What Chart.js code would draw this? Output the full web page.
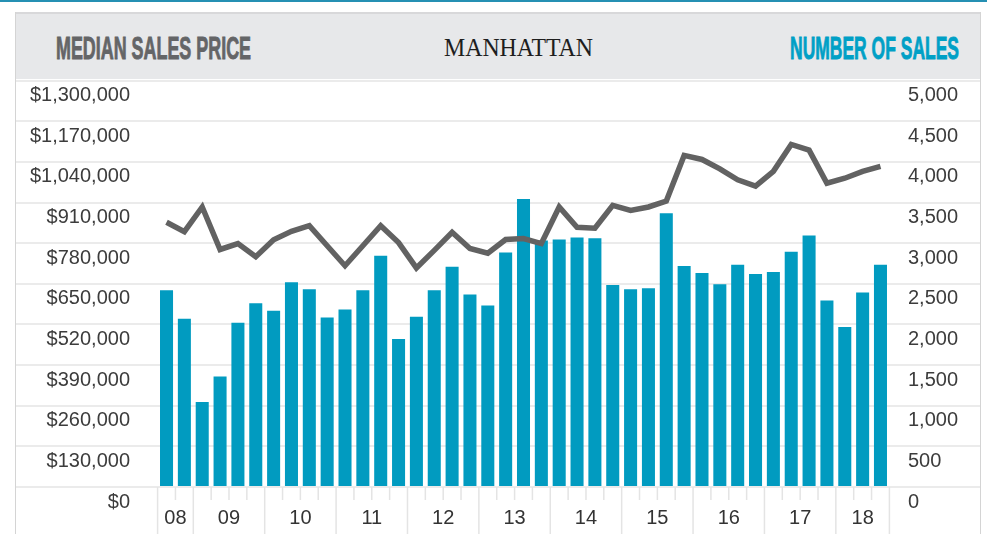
<!DOCTYPE html>
<html>
<head>
<meta charset="utf-8">
<script src="https://cdn.jsdelivr.net/npm/chart.js@4.4.1/dist/chart.umd.min.js"></script>
<style>
html,body{margin:0;padding:0;background:#fff;}
#wrap{position:relative;width:987px;height:534px;overflow:hidden;}
#c{position:absolute;left:0;top:0;}
#topline{position:absolute;left:0;top:0;width:987px;height:2px;background:#2590b3;}
#frame{position:absolute;left:15px;top:12px;width:964px;height:530px;border-left:1px solid #d4d4d4;border-right:1px solid #d4d4d4;}
#band{position:absolute;left:16px;top:12px;width:964px;height:67px;background:#e7e8ea;border-top:2px solid #d8d8da;box-sizing:border-box;}
.ht{position:absolute;white-space:nowrap;line-height:1;transform-origin:0 0;display:inline-block;}
#tl,#tr{top:31.9px;font-weight:bold;font-size:32px;font-family:"Liberation Sans Narrow","Liberation Sans",Arial,sans-serif;-webkit-text-stroke:0.9px currentColor;}
#tl{left:56px;color:#646567;}
#tr{left:790px;color:#00a0c6;}
#tc{left:444px;top:34.5px;font-size:26px;font-family:"Liberation Serif","Times New Roman",serif;color:#1e1e1e;}
</style>
</head>
<body>
<div id="wrap">
  <canvas id="c" width="987" height="534"></canvas>
  <div id="topline"></div>
  <div id="frame"></div>
  <div id="band"></div>
  <span class="ht" id="tl">MEDIAN SALES PRICE</span>
  <span class="ht" id="tc">MANHATTAN</span>
  <span class="ht" id="tr">NUMBER OF SALES</span>
</div>
<script>
// ---- data ----
const quarters = ['3Q08','4Q08',
  '1Q09','2Q09','3Q09','4Q09',
  '1Q10','2Q10','3Q10','4Q10',
  '1Q11','2Q11','3Q11','4Q11',
  '1Q12','2Q12','3Q12','4Q12',
  '1Q13','2Q13','3Q13','4Q13',
  '1Q14','2Q14','3Q14','4Q14',
  '1Q15','2Q15','3Q15','4Q15',
  '1Q16','2Q16','3Q16','4Q16',
  '1Q17','2Q17','3Q17','4Q17',
  '1Q18','2Q18','3Q18'];
const yearLabels = ['08','09','10','11','12','13','14','15','16','17','18'];
const numberOfSales = [2420, 2070, 1045, 1360, 2020, 2260, 2170, 2520, 2435, 2085,
  2185, 2420, 2845, 1820, 2095, 2420, 2710, 2370, 2235, 2885,
  3545, 3035, 3045, 3070, 3060, 2485, 2435, 2445, 3370, 2720,
  2635, 2495, 2735, 2620, 2645, 2895, 3095, 2295, 1970, 2395, 2735];
const medianPrice = [847000, 817000, 896000, 760000, 779000, 737000, 791000, 818000, 836000, 772000,
  708000, 772000, 836000, 782000, 701000, 757000, 815000, 763000, 748000, 792000,
  795000, 779000, 896000, 831000, 828000, 901000, 885000, 896000, 915000, 1061000,
  1048000, 1018000, 983000, 963000, 1010000, 1096000, 1078000, 972000, 988000, 1010000, 1026000];
const priceTicks = {min: 0, max: 1300000, step: 130000};
const salesTicks = {min: 0, max: 5000, step: 500};

// ---- helpers ----
const fmt = v => String(v).replace(/\B(?=(\d{3})+(?!\d))/g, ',');
const yearCenters = yearLabels.map(y => {
  const idx = quarters.map((q, i) => q.slice(2) === y ? i : -1).filter(i => i >= 0);
  return idx.reduce((a, b) => a + b, 0) / idx.length;
});
const FONT = '"Liberation Sans", Arial, sans-serif';
const GRID = '#ebebeb';

const quarterTicks = {
  id: 'quarterTicks',
  afterDraw(chart) {
    const {ctx, chartArea, scales: {x}} = chart;
    ctx.save();
    ctx.strokeStyle = '#e4e4e4';
    ctx.lineWidth = 1.5;
    for (let i = 0; i <= quarters.length; i++) {
      const px = x.getPixelForValue(i - 0.5);
      const tall = i === 0 || i === quarters.length || quarters[i].startsWith('1Q');
      const y2 = tall ? chart.height : chartArea.bottom + 13;
      ctx.beginPath();
      ctx.moveTo(px, chartArea.bottom);
      ctx.lineTo(px, y2);
      ctx.stroke();
    }
    ctx.restore();
  }
};

new Chart(document.getElementById('c'), {
  type: 'bar',
  data: {
    datasets: [
      {
        type: 'line', label: 'Median Sales Price',
        data: medianPrice.map((v, i) => ({x: i, y: v})),
        xAxisID: 'x', yAxisID: 'yPrice',
        borderColor: '#626262', borderWidth: 5.5, borderJoinStyle: 'miter',
        pointRadius: 0, tension: 0, fill: false, order: 0
      },
      {
        type: 'bar', label: 'Number of Sales',
        data: numberOfSales.map((v, i) => ({x: i, y: v})),
        xAxisID: 'x', yAxisID: 'ySales',
        backgroundColor: '#019bc0', borderWidth: 0,
        barPercentage: 0.73, categoryPercentage: 1, order: 1
      }
    ]
  },
  options: {
    responsive: false, animation: false, devicePixelRatio: 1,
    layout: {padding: {left: 16, right: 7, top: 80.7, bottom: 0}},
    plugins: {legend: {display: false}, tooltip: {enabled: false}},
    scales: {
      x: {
        type: 'linear', position: 'bottom', offset: false,
        min: -0.5, max: quarters.length - 0.5,
        grid: {display: false, drawTicks: false},
        border: {display: false},
        afterBuildTicks(axis) { axis.ticks = yearCenters.map(v => ({value: v})); },
        ticks: {
          autoSkip: false, maxRotation: 0, minRotation: 0, padding: 19,
          color: '#333', font: {family: FONT, size: 20},
          callback: (v, i) => yearLabels[i]
        },
        afterFit(s) { s.height = 47; s.paddingLeft = 0; s.paddingRight = 0; }
      },
      yPrice: {
        type: 'linear', position: 'left',
        min: priceTicks.min, max: priceTicks.max,
        grid: {color: GRID, lineWidth: 2, tickLength: 141.6, drawOnChartArea: true},
        border: {display: false},
        ticks: {
          stepSize: priceTicks.step, padding: -114, labelOffset: 15,
          color: '#3c3c3c', font: {family: FONT, size: 20},
          callback: v => '$' + fmt(v)
        },
        afterFit(s) { s.width = 141.6; s.paddingTop = 0; s.paddingBottom = 0; }
      },
      ySales: {
        type: 'linear', position: 'right',
        min: salesTicks.min, max: salesTicks.max,
        grid: {color: GRID, lineWidth: 2, tickLength: 90.6, drawOnChartArea: false},
        border: {display: false},
        ticks: {
          stepSize: salesTicks.step, padding: -72, labelOffset: 15,
          color: '#3c3c3c', font: {family: FONT, size: 20},
          callback: v => fmt(v)
        },
        afterFit(s) { s.width = 90.6; s.paddingTop = 0; s.paddingBottom = 0; }
      }
    }
  },
  plugins: [quarterTicks]
});

// fit header titles to their widths in the reference
function fitTitles() {
  [['tl', 195], ['tc', 149], ['tr', 169]].forEach(([id, w]) => {
    const el = document.getElementById(id);
    el.style.transform = 'none';
    const cw = el.getBoundingClientRect().width;
    el.style.transform = 'scaleX(' + (w / cw) + ')';
  });
}
fitTitles();
if (document.fonts && document.fonts.ready) document.fonts.ready.then(fitTitles);
</script>
</body>
</html>
